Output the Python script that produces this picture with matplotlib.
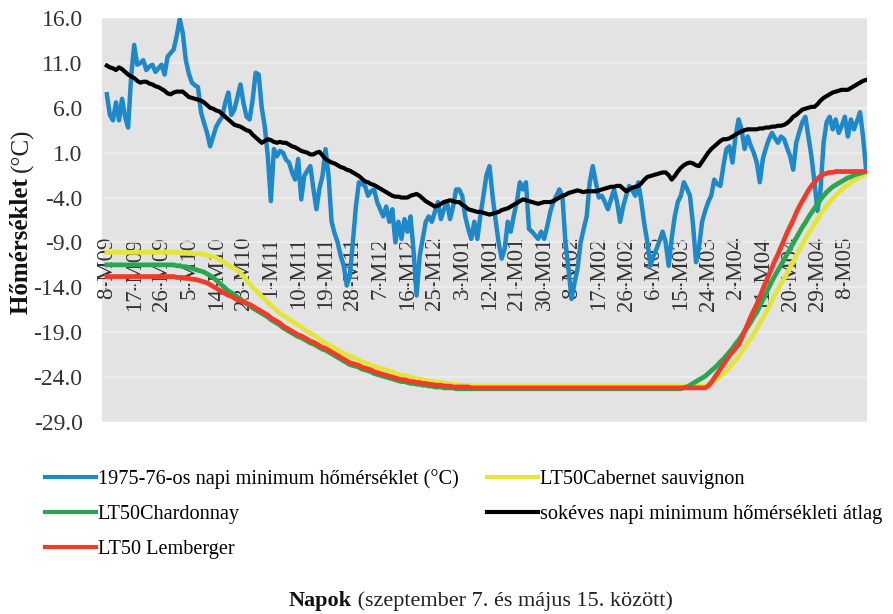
import matplotlib
matplotlib.use('Agg')
import matplotlib.pyplot as plt
from matplotlib.lines import Line2D

plt.rcParams['font.family'] = ['Liberation Serif', 'DejaVu Serif']

# ---------------- data ----------------
tick_labels = ["8-M09", "17-M09", "26-M09", "5-M10", "14-M10", "23-M10", "1-M11",
               "10-M11", "19-M11", "28-M11", "7-M12", "16-M12", "25-M12", "3-M01",
               "12-M01", "21-M01", "30-M01", "8-M02", "17-M02", "26-M02", "6-M03",
               "15-M03", "24-M03", "2-M04", "11-M04", "20-M04", "29-M04", "8-M05"]
y_ticks = [16.0, 11.0, 6.0, 1.0, -4.0, -9.0, -14.0, -19.0, -24.0, -29.0]

# 1975-76 daily minimum temperature (Sep 8 .. May 15)
tmin_1975_76 = [
    7.5, 5.2, 4.6, 6.6, 4.6, 7.0, 5.0, 3.8, 9.5, 13.0,
    10.8, 11.0, 11.3, 10.2, 10.6, 10.8, 10.0, 10.4, 10.8, 9.7,
    11.7, 12.1, 12.5, 14.0, 15.9, 14.3, 11.3, 9.8, 8.8, 8.5,
    8.3, 5.5, 4.3, 3.2, 1.7, 2.8, 3.9, 4.5, 5.0, 6.6,
    7.7, 5.2, 5.8, 7.2, 8.6, 6.5, 5.0, 4.7, 6.9, 9.9,
    9.7, 6.0, 3.9, 0.6, -4.4, 1.4, 0.6, 1.2, 1.0, 0.2,
    -0.1, -1.2, -2.0, 0.3, -4.2, -1.6, -1.0, -0.5, -3.0, -5.3,
    -3.0, -1.6, 1.4, -1.6, -6.7, -8.0, -9.0, -10.5, -11.6, -13.8,
    -12.7, -9.0, -5.0, -2.3, -2.5, -2.7, -3.8, -3.3, -3.1, -4.5,
    -5.3, -6.1, -5.0, -6.7, -5.3, -9.0, -6.7, -8.6, -6.4, -7.8,
    -6.1, -10.0, -14.9, -10.5, -8.6, -6.7, -6.1, -6.7, -5.6, -4.5,
    -6.4, -5.3, -4.5, -6.4, -5.0, -3.1, -3.1, -3.8, -6.1, -7.5,
    -8.6, -6.7, -8.6, -6.0, -3.8, -1.5, -0.5, -3.8, -6.5, -9.0,
    -10.8, -9.7, -6.7, -7.8, -6.0, -4.5, -2.3, -3.1, -2.3, -7.5,
    -7.8, -8.2, -8.6, -7.8, -8.6, -7.2, -5.6, -4.5, -3.8, -3.1,
    -3.8, -9.0, -11.9, -15.3, -13.5, -11.9, -9.0, -7.5, -6.1, -2.3,
    -0.5, -2.3, -4.0, -3.8, -4.5, -5.3, -4.2, -3.1, -4.5, -6.7,
    -5.0, -3.8, -2.7, -3.2, -3.8, -2.3, -4.5, -7.0, -9.0, -11.6,
    -10.5, -9.7, -8.8, -7.8, -9.0, -11.6, -8.5, -6.1, -4.5, -3.8,
    -2.3, -3.0, -3.8, -7.0, -11.2, -9.5, -6.7, -5.5, -4.5, -3.8,
    -2.0, -2.5, -2.7, -0.5, 1.4, 1.7, -0.1, 2.8, 4.7, 3.6,
    1.4, 2.8, 1.8, 1.0, -0.1, -2.3, 0.3, 1.5, 2.5, 3.2,
    2.6, 2.1, 2.8, 2.5, 1.5, 0.6, -0.9, 2.1, 3.3, 4.4,
    5.0, 2.8, 0.6, -2.3, -5.5, -3.1, 2.1, 4.4, 5.0, 3.6,
    4.7, 3.2, 4.0, 5.0, 2.8, 4.7, 3.6, 4.5, 5.5, 2.8,
    -0.9]

# long-term mean of daily minimum temperature
tmin_longterm = [
    10.7, 10.5, 10.4, 10.2, 10.5, 10.3, 10.0, 9.7, 9.5, 9.3,
    9.0, 8.8, 8.9, 8.9, 8.7, 8.6, 8.4, 8.3, 8.1, 7.9,
    7.6, 7.5, 7.7, 7.8, 7.8, 7.8, 7.5, 7.2, 7.1, 7.0,
    6.9, 6.8, 6.6, 6.3, 6.0, 5.9, 5.7, 5.6, 5.3, 5.0,
    4.7, 4.4, 4.1, 4.0, 3.9, 3.7, 3.5, 3.4, 3.0, 2.7,
    2.4, 2.1, 2.3, 2.5, 2.4, 2.2, 2.1, 2.2, 2.1, 2.1,
    1.9, 1.7, 1.6, 1.4, 1.2, 1.1, 1.0, 0.8, 0.8, 1.0,
    1.1, 0.7, 0.3, 0.1, -0.1, -0.2, -0.4, -0.6, -0.7, -0.9,
    -1.0, -1.2, -1.4, -1.6, -1.9, -2.2, -2.3, -2.5, -2.6, -2.8,
    -3.0, -3.2, -3.4, -3.6, -3.8, -3.9, -3.9, -4.0, -4.0, -4.0,
    -3.8, -3.7, -3.6, -3.8, -4.1, -4.4, -4.6, -4.8, -5.0, -4.9,
    -4.7, -4.5, -4.4, -4.3, -4.4, -4.5, -4.5, -4.8, -5.0, -5.3,
    -5.4, -5.5, -5.6, -5.6, -5.7, -5.8, -5.9, -5.8, -5.7, -5.6,
    -5.4, -5.3, -5.2, -5.0, -4.8, -4.6, -4.4, -4.2, -4.3, -4.4,
    -4.5, -4.6, -4.7, -4.6, -4.5, -4.5, -4.5, -4.4, -4.2, -4.0,
    -3.8, -3.7, -3.5, -3.4, -3.3, -3.2, -3.3, -3.4, -3.3, -3.3,
    -3.3, -3.3, -3.2, -3.1, -3.0, -2.9, -2.8, -2.8, -2.7, -2.7,
    -3.0, -3.3, -3.1, -2.9, -2.8, -2.7, -2.4, -2.0, -1.7, -1.6,
    -1.5, -1.4, -1.3, -1.2, -1.2, -1.5, -2.0, -1.6, -1.1, -0.7,
    -0.4, -0.2, -0.1, -0.2, -0.4, -0.5, 0.0, 0.5, 1.0, 1.4,
    1.7, 2.0, 2.3, 2.5, 2.5, 2.6, 2.8, 3.0, 3.2, 3.4,
    3.5, 3.6, 3.6, 3.6, 3.6, 3.7, 3.7, 3.8, 3.8, 3.9,
    3.9, 4.0, 4.0, 4.1, 4.3, 4.6, 5.0, 5.2, 5.5, 5.8,
    5.9, 6.0, 6.1, 6.1, 6.4, 6.8, 7.1, 7.3, 7.5, 7.7,
    7.8, 7.9, 8.0, 8.0, 8.0, 8.2, 8.4, 8.6, 8.8, 9.0,
    9.1]

lt50_cabernet = (
    [-10.1] * 27 + [-10.2, -10.2, -10.3] +
    [-10.2, -10.3, -10.3, -10.4, -10.5, -10.6, -10.7, -10.9, -11.1, -11.3,
     -11.5, -11.7, -11.9, -12.1, -12.4, -12.8, -13.2, -13.6, -14.0, -14.3,
     -14.7, -15.0, -15.3, -15.7, -16.0, -16.3, -16.6, -16.9, -17.1, -17.3,
     -17.6, -17.8, -18.0, -18.2, -18.4, -18.7, -18.9, -19.1, -19.3, -19.5,
     -19.8, -20.0, -20.2, -20.4, -20.6, -20.8, -21.0, -21.2, -21.4, -21.5,
     -21.7, -21.8, -22.0, -22.1, -22.3, -22.4, -22.5, -22.7, -22.8, -22.9,
     -23.0, -23.1, -23.2, -23.3, -23.4, -23.6, -23.7, -23.8, -23.8, -23.9,
     -24.0, -24.1, -24.2, -24.2, -24.3, -24.4, -24.4, -24.5, -24.5, -24.6,
     -24.6, -24.7, -24.7, -24.8, -24.8, -24.8, -24.9, -24.9, -24.9, -24.9,
     -24.9] + [-25.0] * 76 +
    [-25.0, -24.8, -24.6, -24.4, -24.2, -23.9, -23.6, -23.3, -22.9, -22.5,
     -22.1, -21.7, -21.2, -20.7, -20.2, -19.7, -19.2, -18.6, -18.0, -17.4,
     -16.8, -16.2, -15.5, -14.8, -14.2, -13.6, -13.0, -12.4, -11.8, -11.1,
     -10.5, -9.8, -9.2, -8.6, -8.0, -7.5, -6.9, -6.4, -5.8, -5.3,
     -4.9, -4.5, -4.1, -3.8, -3.4, -3.1, -2.8, -2.6, -2.3, -2.1,
     -1.9, -1.7, -1.5, -1.3])

lt50_chardonnay = (
    [-11.5] * 20 +
    [-11.5, -11.5, -11.5, -11.6, -11.6, -11.7, -11.7, -11.8, -11.9, -12.0,
     -12.1, -12.2, -12.3, -12.5, -12.7, -12.9, -13.2, -13.5, -13.8, -14.1,
     -14.4, -14.6, -14.8, -15.1, -15.3, -15.6, -15.8, -16.0, -16.3, -16.5,
     -16.7, -16.9, -17.1, -17.3, -17.6, -17.8, -18.0, -18.2, -18.5, -18.7,
     -18.9, -19.1, -19.3, -19.5, -19.6, -19.8, -20.0, -20.2, -20.3, -20.5,
     -20.7, -20.9, -21.0, -21.2, -21.4, -21.6, -21.8, -22.0, -22.2, -22.4,
     -22.6, -22.7, -22.8, -22.9, -23.1, -23.2, -23.3, -23.4, -23.6, -23.7,
     -23.8, -23.9, -24.0, -24.1, -24.2, -24.3, -24.4, -24.5, -24.5, -24.6,
     -24.7, -24.7, -24.8, -24.8, -24.9, -24.9, -25.0, -25.0, -25.1, -25.1,
     -25.1, -25.2, -25.2, -25.2, -25.2] + [-25.3] * 75 +
    [-25.2, -25.1, -24.9, -24.7, -24.5, -24.3, -24.1, -23.9, -23.6, -23.3,
     -23.0, -22.7, -22.3, -22.0, -21.6, -21.2, -20.8, -20.3, -19.9, -19.4,
     -18.9, -18.4, -17.9, -17.3, -16.8, -16.1, -15.4, -14.7, -14.0, -13.3,
     -12.7, -12.1, -11.5, -10.9, -10.3, -9.7, -9.1, -8.5, -7.9, -7.3,
     -6.8, -6.2, -5.7, -5.2, -4.7, -4.2, -3.8, -3.4, -3.1, -2.8,
     -2.6, -2.4, -2.2, -2.0, -1.8, -1.7, -1.5, -1.4, -1.3, -1.2,
     -1.1])

lt50_lemberger = (
    [-12.8] * 20 +
    [-12.8, -12.8, -12.8, -12.9, -12.9, -12.9, -13.0, -13.0, -13.1, -13.1,
     -13.2, -13.3, -13.4, -13.5, -13.7, -13.9, -14.1, -14.3, -14.5, -14.7,
     -14.9, -15.0, -15.2, -15.4, -15.5, -15.6, -15.8, -15.9, -16.1, -16.3,
     -16.5, -16.7, -16.9, -17.1, -17.4, -17.6, -17.8, -18.0, -18.3, -18.5,
     -18.7, -18.9, -19.1, -19.3, -19.4, -19.6, -19.8, -20.0, -20.1, -20.3,
     -20.5, -20.7, -20.8, -21.0, -21.2, -21.4, -21.6, -21.8, -22.0, -22.2,
     -22.4, -22.5, -22.6, -22.7, -22.9, -23.0, -23.1, -23.2, -23.4, -23.5,
     -23.6, -23.7, -23.8, -23.9, -24.0, -24.1, -24.2, -24.3, -24.3, -24.4,
     -24.5, -24.5, -24.6, -24.6, -24.7, -24.7, -24.8, -24.8, -24.9, -24.9,
     -24.9, -25.0, -25.0, -25.0, -25.1, -25.1, -25.1, -25.1, -25.1, -25.1] +
    [-25.2] * 78 +
    [-25.0, -24.6, -24.1, -23.6, -23.1, -22.6, -22.1, -21.6, -21.2, -20.8,
     -20.4, -19.7, -18.9, -18.1, -17.3, -16.6, -15.9, -15.1, -14.2, -13.4,
     -12.6, -11.8, -11.0, -10.3, -9.5, -8.7, -7.9, -7.2, -6.5, -5.7,
     -5.0, -4.4, -3.8, -3.2, -2.7, -2.3, -1.9, -1.6, -1.4, -1.3,
     -1.2, -1.2, -1.1] + [-1.1] * 10)

days = list(range(len(tmin_1975_76)))
tick_pos = days[::9][:len(tick_labels)]

# ---------------- figure ----------------
fig = plt.figure(figsize=(8.93, 6.14), dpi=100)
ax = fig.add_axes([102 / 893, 1 - 422 / 614, 765 / 893, 404 / 614])
ax.set_facecolor('#e3e3e3')
ax.set_xlim(-1.6, 250.3)
ax.set_ylim(-29, 16)

c_blue, c_yel, c_grn, c_blk, c_red = '#1f88c9', '#e4e43a', '#2aa64e', '#000000', '#ef3b2a'

ax.plot(days, tmin_1975_76, color=c_blue, lw=3.2, zorder=2.0, solid_joinstyle='round')
ax.plot(days, lt50_cabernet, color=c_yel, lw=3.4, zorder=2.1)
ax.plot(days, lt50_chardonnay, color=c_grn, lw=3.4, zorder=2.2)
ax.plot(days, tmin_longterm, color=c_blk, lw=3.0, zorder=2.3)
ax.plot(days, lt50_lemberger, color=c_red, lw=3.4, zorder=2.4)

for s in ax.spines.values():
    s.set_visible(False)
ax.spines['bottom'].set_position(('data', -9))

ax.set_yticks(y_ticks)
ax.set_yticklabels([f"{v:.1f}" for v in y_ticks])
ax.set_xticks(tick_pos)
ax.set_xticklabels(tick_labels, rotation=90)
ax.tick_params(axis='x', length=0, pad=-4, labelsize=16.5, labelcolor='#333333')
ax.tick_params(axis='y', length=0, pad=14, labelsize=17, labelcolor='#333333')
ax.yaxis.grid(True, color='#efefef', lw=1.2)
ax.set_axisbelow(True)

# y label: bold word + regular unit
t1 = fig.text(22 / 893, 1 - 314 / 614, 'Hőmérséklet ', rotation=90, fontsize=18,
              fontweight='bold', ha='center', va='bottom', color='#111111')
ax.annotate('(°C)', xy=(0.5, 1.0), xycoords=t1, rotation=90, fontsize=18,
            ha='center', va='bottom', color='#222222')

# x label: bold word + regular text
t2 = fig.text(289 / 893, 1 - 601 / 614, 'Napok', fontsize=16, fontweight='bold',
              ha='left', va='center', color='#111111')
ax.annotate(' (szeptember 7. és május 15. között)', xy=(1.0, 0.5), xycoords=t2,
            fontsize=16, ha='left', va='center', color='#222222')

handles = [Line2D([], [], color=c_blue, lw=3),
           Line2D([], [], color=c_grn, lw=3),
           Line2D([], [], color=c_red, lw=3),
           Line2D([], [], color=c_yel, lw=3),
           Line2D([], [], color=c_blk, lw=3)]
labels = ['1975-76-os napi minimum hőmérséklet (°C)', 'LT50Chardonnay', 'LT50 Lemberger',
          'LT50Cabernet sauvignon', 'sokéves napi minimum hőmérsékleti átlag']
fig.legend(handles, labels, ncol=2, loc='upper left',
           bbox_to_anchor=(45 / 893, 1 - 469 / 614), frameon=False, fontsize=14.6,
           handlelength=2.5, handletextpad=0.1, columnspacing=1.4,
           labelspacing=0.78, borderpad=0, borderaxespad=0)

fig.savefig('out.png', dpi=100)
